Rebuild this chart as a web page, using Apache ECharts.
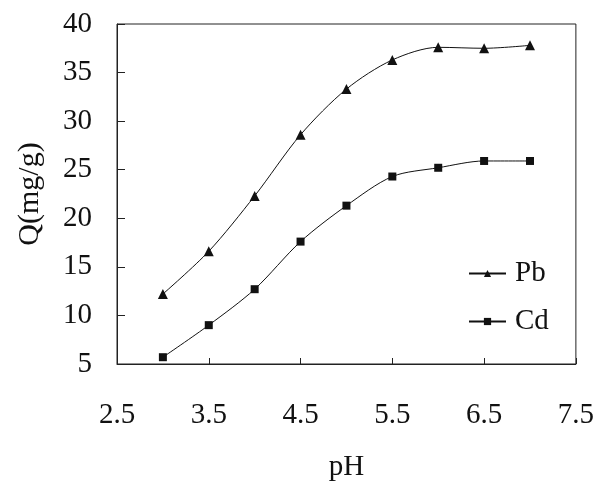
<!DOCTYPE html>
<html>
<head>
<meta charset="utf-8">
<script src="https://cdn.jsdelivr.net/npm/echarts@6/dist/echarts.min.js"></script>
<style>
  html, body { margin: 0; padding: 0; background: #fff; }
  #main { width: 597px; height: 487px; }
</style>
</head>
<body>
<div id="main"></div>
<script>
var phValues = [3, 3.5, 4, 4.5, 5, 5.5, 6, 6.5, 7];
var pbValues = [12.2, 16.6, 22.3, 28.6, 33.3, 36.3, 37.6, 37.5, 37.8];
var cdValues = [5.7, 9.0, 12.7, 17.6, 21.3, 24.3, 25.2, 25.9, 25.9];

function pairs(xs, ys) {
    return xs.map(function (x, i) { return [x, ys[i]]; });
}

var font = 'Liberation Serif';
var myChart = echarts.init(document.getElementById('main'));
var option = {
    animation: false,
    textStyle: { fontFamily: font, color: '#111' },
    grid: {
        left: 117, top: 24, right: 20, bottom: 122,
        show: true, borderColor: '#222', borderWidth: 1
    },
    legend: {
        orient: 'vertical',
        left: 463, top: 254,
        itemWidth: 37, itemHeight: 9, itemGap: 19,
        textStyle: { fontFamily: font, fontSize: 29, color: '#111', padding: [0, 0, 0, 4] },
        data: ['Pb', 'Cd']
    },
    xAxis: {
        type: 'value',
        min: 2.5, max: 7.5, interval: 1,
        name: 'pH', nameLocation: 'middle', nameGap: 89,
        nameTextStyle: { fontFamily: font, fontSize: 29, color: '#111' },
        axisLine: { lineStyle: { color: '#222', width: 1 } },
        axisTick: { inside: true, length: 6, lineStyle: { color: '#222' } },
        axisLabel: { fontFamily: font, fontSize: 29, color: '#111', margin: 37,
            formatter: function (v) { return v.toFixed(1); } },
        splitLine: { show: false }
    },
    yAxis: {
        type: 'value',
        min: 5, max: 40, interval: 5,
        name: 'Q(mg/g)', nameLocation: 'middle', nameGap: 72,
        nameTextStyle: { fontFamily: font, fontSize: 30, color: '#111' },
        axisLine: { show: true, lineStyle: { color: '#222', width: 1 } },
        axisTick: { show: true, inside: true, length: 8, lineStyle: { color: '#222' } },
        axisLabel: { fontFamily: font, fontSize: 29, color: '#111', margin: 25 },
        splitLine: { show: false }
    },
    series: [
        {
            name: 'Pb', type: 'line',
            data: pairs(phValues, pbValues),
            smooth: 0.3,
            symbol: 'triangle', symbolSize: 10,
            lineStyle: { color: '#111', width: 1 },
            itemStyle: { color: '#111' }
        },
        {
            name: 'Cd', type: 'line',
            data: pairs(phValues, cdValues),
            smooth: 0.3,
            symbol: 'rect', symbolSize: 8,
            lineStyle: { color: '#111', width: 1 },
            itemStyle: { color: '#111' }
        }
    ]
};
myChart.setOption(option);
</script>
</body>
</html>
